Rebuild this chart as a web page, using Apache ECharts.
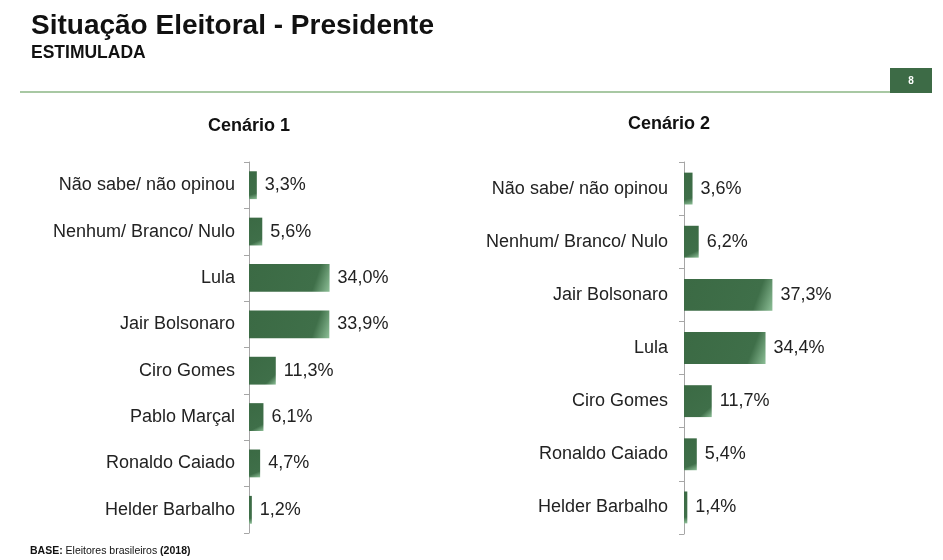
<!DOCTYPE html>
<html><head><meta charset="utf-8">
<script src="https://cdn.jsdelivr.net/npm/echarts@6/dist/echarts.min.js"></script>
<style>html,body{margin:0;padding:0;background:#fff}#c{width:943px;height:560px}</style>
</head><body><div id="c"></div>
<script>
var cats1 = ['Não sabe/ não opinou','Nenhum/ Branco/ Nulo','Lula','Jair Bolsonaro','Ciro Gomes','Pablo Marçal','Ronaldo Caiado','Helder Barbalho'];
var vals1 = [3.3,5.6,34.0,33.9,11.3,6.1,4.7,1.2];
var cats2 = ['Não sabe/ não opinou','Nenhum/ Branco/ Nulo','Jair Bolsonaro','Lula','Ciro Gomes','Ronaldo Caiado','Helder Barbalho'];
var vals2 = [3.6,6.2,37.3,34.4,11.7,5.4,1.4];
var titleText = 'Situação Eleitoral - Presidente';
var subtitleText = 'ESTIMULADA';
var scen1 = 'Cenário 1', scen2 = 'Cenário 2';
var pageNum = '8';

var FF = '"Liberation Sans", Arial, sans-serif';
var chart = echarts.init(document.getElementById('c'), null, {renderer:'canvas'});
var barColor = new echarts.graphic.LinearGradient(0,0,1,1,[
  {offset:0,color:'#3b6a44'},{offset:0.8,color:'#3f6f49'},{offset:1,color:'#8dbf97'}]);
function fmt(p){return p.value.toFixed(1).replace('.',',')+'%';}
function yAx(idx, cats, margin){
  return {type:'category', gridIndex:idx, data:cats, inverse:true,
    axisLine:{show:true,lineStyle:{color:'#a6a6a6',width:1}},
    axisTick:{show:true,length:5,lineStyle:{color:'#a6a6a6'}},
    axisLabel:{color:'#222',fontSize:18,fontFamily:FF,margin:margin}};
}
function ser(idx, vals){
  return {type:'bar', xAxisIndex:idx, yAxisIndex:idx, data:vals, barCategoryGap:'40%',
    itemStyle:{color:barColor},
    label:{show:true,position:'right',distance:8,color:'#222',fontSize:18,fontFamily:FF,formatter:fmt},
    silent:true};
}
var option = {
  animation:false,
  backgroundColor:'#fff',
  grid:[{left:249,top:162,height:371,width:237},{left:684,top:162,height:372,width:237}],
  xAxis:[{type:'value',gridIndex:0,min:0,max:100,show:false},{type:'value',gridIndex:1,min:0,max:100,show:false}],
  yAxis:[yAx(0,cats1,14),yAx(1,cats2,16)],
  series:[ser(0,vals1),ser(1,vals2)],
  graphic:[
    {type:'text',left:31,top:12,style:{text:titleText,fontSize:28,fontWeight:'bold',fontFamily:FF,fill:'#111'}},
    {type:'text',left:31,top:44,style:{text:subtitleText,fontSize:17.5,fontWeight:'bold',fontFamily:FF,fill:'#111'}},
    {type:'rect',shape:{x:20,y:91,width:872,height:2},style:{fill:'#a8c8a3'}},
    {type:'rect',shape:{x:890,y:68,width:42,height:25},style:{fill:'#3d6b46'}},
    {type:'text',x:911,y:81,style:{text:pageNum,fontSize:10,fontWeight:'bold',fontFamily:FF,fill:'#fff',align:'center',verticalAlign:'middle'}},
    {type:'text',x:249,y:126,style:{text:scen1,fontSize:18,fontWeight:'bold',fontFamily:FF,fill:'#111',align:'center',verticalAlign:'middle'}},
    {type:'text',x:669,y:124,style:{text:scen2,fontSize:18,fontWeight:'bold',fontFamily:FF,fill:'#111',align:'center',verticalAlign:'middle'}},
    {type:'text',x:30,y:551,style:{text:'{b|BASE:} Eleitores brasileiros {b|(2018)}',fontSize:10.5,fontFamily:FF,fill:'#111',verticalAlign:'middle',
      rich:{b:{fontWeight:'bold',fontSize:10.5,fontFamily:FF,fill:'#111'}}}}
  ]
};
chart.setOption(option);
</script></body></html>
